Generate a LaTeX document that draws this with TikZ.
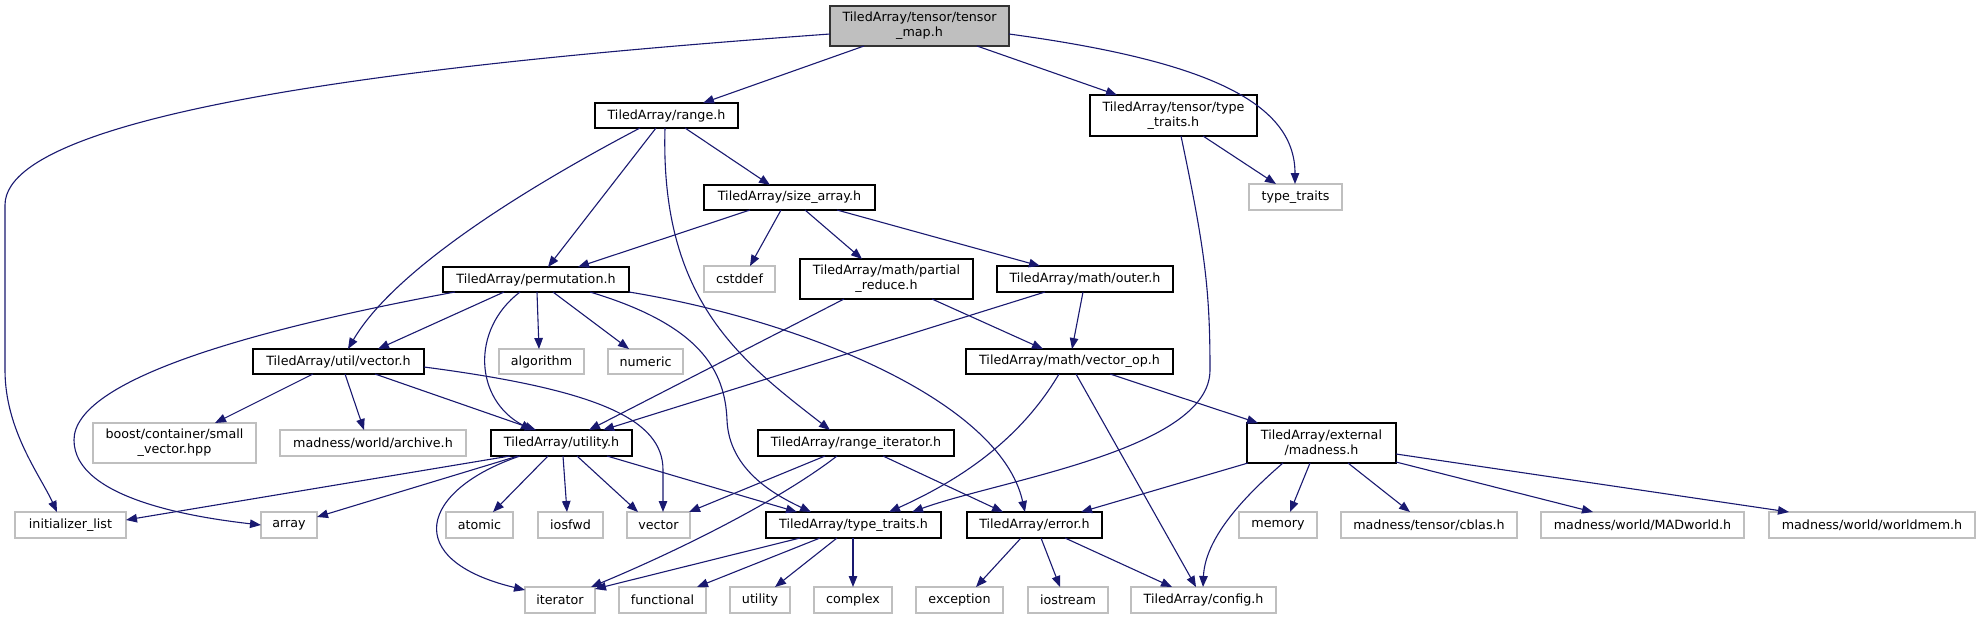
\documentclass[tikz,border=0pt]{standalone}
\usepackage{fontspec}
\setmainfont{DejaVu Sans}
\usetikzlibrary{arrows.meta}
\definecolor{edgec}{HTML}{191970}
\definecolor{extc}{HTML}{BFBFBF}
\newcommand\nd[7]{\node[#6, minimum width={(#4-#2)*1pt}, minimum height={(#5-#3)*1pt}] (#1) at ({(#2+#4)/2},{(#3+#5)/2}) {#7};}
\begin{document}
\begin{tikzpicture}[x=1pt,y=-1pt,
  box/.style={draw, line width=1.2pt, inner sep=0pt, outer sep=0pt, align=center, font=\fontsize{12.7}{14.7}\selectfont},
  doc/.style={box, draw=black, fill=white},
  ext/.style={box, draw=extc, fill=white},
  mainn/.style={box, draw=black!80, fill=extc},
  e/.style={draw=edgec, line width=1.1pt, -{Triangle[length=11pt,width=8.5pt]}}]
\path[use as bounding box] (0,0) rectangle (1981,619);
\nd{tm}{830}{6}{1009}{46}{mainn}{TiledArray/tensor/tensor\\\_map.h}
\nd{range}{595}{103}{738}{128}{doc}{TiledArray/range.h}
\nd{ttt}{1090}{95}{1257}{136}{doc}{TiledArray/tensor/type\\\_traits.h}
\nd{tt}{1249}{184}{1342}{210}{ext}{type\_traits}
\nd{sa}{704}{185}{875}{210}{doc}{TiledArray/size\_array.h}
\nd{cstddef}{704}{266}{775}{292}{ext}{cstddef}
\nd{pr}{800}{259}{973}{299}{doc}{TiledArray/math/partial\\\_reduce.h}
\nd{outer}{997}{266}{1173}{292}{doc}{TiledArray/math/outer.h}
\nd{perm}{443}{267}{629}{292}{doc}{TiledArray/permutation.h}
\nd{uvec}{253}{349}{424}{374}{doc}{TiledArray/util/vector.h}
\nd{algorithm}{499}{349}{584}{374}{ext}{algorithm}
\nd{numeric}{608}{349}{683}{374}{ext}{numeric}
\nd{vop}{966}{349}{1173}{374}{doc}{TiledArray/math/vector\_op.h}
\nd{sv}{93}{423}{256}{463}{ext}{boost/container/small\\\_vector.hpp}
\nd{archive}{280}{430}{466}{456}{ext}{madness/world/archive.h}
\nd{util}{491}{430}{632}{456}{doc}{TiledArray/utility.h}
\nd{ri}{758}{430}{954}{456}{doc}{TiledArray/range\_iterator.h}
\nd{mad}{1247}{423}{1396}{463}{doc}{TiledArray/external\\/madness.h}
\nd{il}{15}{512}{126}{538}{ext}{initializer\_list}
\nd{array}{261}{512}{317}{538}{ext}{array}
\nd{atomic}{446}{512}{513}{538}{ext}{atomic}
\nd{iosfwd}{538}{512}{603}{538}{ext}{iosfwd}
\nd{vector}{627}{512}{690}{538}{ext}{vector}
\nd{typetr}{766}{512}{941}{538}{doc}{TiledArray/type\_traits.h}
\nd{error}{967}{512}{1102}{538}{doc}{TiledArray/error.h}
\nd{memory}{1239}{512}{1317}{538}{ext}{memory}
\nd{cblas}{1341}{512}{1517}{538}{ext}{madness/tensor/cblas.h}
\nd{madworld}{1541}{512}{1744}{538}{ext}{madness/world/MADworld.h}
\nd{worldmem}{1769}{512}{1975}{538}{ext}{madness/world/worldmem.h}
\nd{iterator}{525}{587}{595}{613}{ext}{iterator}
\nd{functional}{619}{587}{706}{613}{ext}{functional}
\nd{utility}{730}{587}{790}{613}{ext}{utility}
\nd{complex}{814}{587}{892}{613}{ext}{complex}
\nd{exception}{916}{587}{1003}{613}{ext}{exception}
\nd{iostream}{1028}{587}{1108}{613}{ext}{iostream}
\nd{config}{1131}{587}{1276}{613}{ext}{TiledArray/config.h}
% tensor_map
\draw[e] ([yshift=-28pt]tm.north west) .. controls (540,55) and (5,100) .. (5,205) -- (5,370) .. controls (5,430) and (40,475) .. ([xshift=42pt]il.north west);
\draw[e] ([xshift=34pt]tm.south west) -- ([xshift=108pt]range.north west);
\draw[e] ([xshift=147pt]tm.south west) -- ([xshift=27pt]ttt.north west);
\draw[e] ([yshift=-28pt]tm.north east) .. controls (1200,60) and (1295,100) .. ([xshift=46pt]tt.north west);
% range
\draw[e] ([xshift=45pt]range.south west) .. controls (560,170) and (400,260) .. ([xshift=95pt]uvec.north west);
\draw[e] ([xshift=61pt]range.south west) -- ([xshift=105pt]perm.north west);
\draw[e] ([xshift=70pt]range.south west) .. controls (660,300) and (740,360) .. ([xshift=72pt]ri.north west);
\draw[e] ([xshift=90pt]range.south west) -- ([xshift=66pt]sa.north west);
% tensor/type_traits
\draw[e] ([xshift=113pt]ttt.south west) -- ([xshift=27pt]tt.north west);
\draw[e] ([xshift=91pt]ttt.south west) .. controls (1205,250) and (1210,290) .. (1210,370) .. controls (1210,450) and (1000,480) .. ([xshift=146pt]typetr.north west);
% size_array
\draw[e] ([xshift=46pt]sa.south west) -- ([xshift=135pt]perm.north west);
\draw[e] ([xshift=77pt]sa.south west) -- ([xshift=46pt]cstddef.north west);
\draw[e] ([xshift=101pt]sa.south west) -- ([xshift=62pt]pr.north west);
\draw[e] ([xshift=133pt]sa.south west) -- ([xshift=43pt]outer.north west);
% permutation
\draw[e] ([xshift=61pt]perm.south west) -- ([xshift=125pt]uvec.north west);
\draw[e] ([xshift=12pt]perm.south west) .. controls (250,330) and (74,380) .. (74,440) .. controls (74,500) and (200,518) .. ([yshift=-13pt]array.north west);
\draw[e] ([xshift=77pt]perm.south west) .. controls (470,330) and (475,400) .. ([xshift=41pt]util.north west);
\draw[e] ([xshift=94pt]perm.south west) -- ([xshift=40pt]algorithm.north west);
\draw[e] ([xshift=110pt]perm.south west) -- ([xshift=21pt]numeric.north west);
\draw[e] ([xshift=147pt]perm.south west) .. controls (700,325) and (725,370) .. (727,420) .. controls (729,470) and (775,495) .. ([xshift=45pt]typetr.north west);
\draw[e] (perm.south east) .. controls (800,320) and (1000,400) .. ([xshift=58pt]error.north west);
% partial_reduce, outer
\draw[e] ([xshift=44pt]pr.south west) -- ([xshift=98pt]util.north west);
\draw[e] ([xshift=132pt]pr.south west) -- ([xshift=77pt]vop.north west);
\draw[e] ([xshift=86pt]outer.south west) -- ([xshift=106pt]vop.north west);
\draw[e] ([xshift=48pt]outer.south west) -- ([xshift=112pt]util.north west);
% util/vector
\draw[e] ([xshift=60pt]uvec.south west) -- ([xshift=122pt]sv.north west);
\draw[e] ([xshift=92pt]uvec.south west) -- ([xshift=84pt]archive.north west);
\draw[e] ([xshift=122pt]uvec.south west) -- ([xshift=45pt]util.north west);
\draw[e] ([yshift=-18pt]uvec.north east) .. controls (600,390) and (663,420) .. (663,470) -- ([xshift=36pt]vector.north west);
% utility
\draw[e] ([xshift=19pt]util.south west) -- ([yshift=-8pt]il.north east);
\draw[e] ([xshift=27pt]util.south west) -- ([yshift=-5pt]array.north east);
\draw[e] ([xshift=29pt]util.south west) .. controls (420,490) and (400,560) .. ([yshift=-3pt]iterator.north west);
\draw[e] ([xshift=57pt]util.south west) -- ([xshift=47pt]atomic.north west);
\draw[e] ([xshift=72pt]util.south west) -- ([xshift=29pt]iosfwd.north west);
\draw[e] ([xshift=86pt]util.south west) -- ([xshift=11pt]vector.north west);
\draw[e] ([xshift=116pt]util.south west) -- ([xshift=31pt]typetr.north west);
% range_iterator
\draw[e] ([xshift=67pt]ri.south west) -- ([xshift=-1pt]vector.north east);
\draw[e] ([xshift=79pt]ri.south west) .. controls (780,500) and (680,550) .. ([xshift=-4pt]iterator.north east);
\draw[e] ([xshift=125pt]ri.south west) -- ([xshift=36pt]error.north west);
% vector_op
\draw[e] ([xshift=93pt]vop.south west) .. controls (1020,440) and (960,480) .. ([xshift=123pt]typetr.north west);
\draw[e] ([xshift=110pt]vop.south west) -- ([xshift=65pt]config.north west);
\draw[e] ([xshift=144pt]vop.south west) -- ([xshift=11pt]mad.north west);
% madness
\draw[e] ([xshift=1pt]mad.south west) -- ([xshift=114pt]error.north west);
\draw[e] ([xshift=36pt]mad.south west) .. controls (1240,500) and (1205,540) .. ([xshift=72pt]config.north west);
\draw[e] ([xshift=63pt]mad.south west) -- ([xshift=51pt]memory.north west);
\draw[e] ([xshift=101pt]mad.south west) -- ([xshift=69pt]cblas.north west);
\draw[e] ([yshift=-39pt]mad.north east) -- ([xshift=52pt]madworld.north west);
\draw[e] ([yshift=-31pt]mad.north east) -- ([xshift=20pt]worldmem.north west);
% type_traits.h
\draw[e] ([xshift=34pt]typetr.south west) -- ([yshift=-2pt]iterator.north east);
\draw[e] ([xshift=54pt]typetr.south west) -- ([xshift=78pt]functional.north west);
\draw[e] ([xshift=71pt]typetr.south west) -- ([xshift=45pt]utility.north west);
\draw[e] ([xshift=87pt]typetr.south west) -- ([xshift=39pt]complex.north west);
% error.h
\draw[e] ([xshift=54pt]error.south west) -- ([xshift=60pt]exception.north west);
\draw[e] ([xshift=74pt]error.south west) -- ([xshift=32pt]iostream.north west);
\draw[e] ([xshift=98pt]error.south west) -- ([xshift=41pt]config.north west);
\end{tikzpicture}
\end{document}
